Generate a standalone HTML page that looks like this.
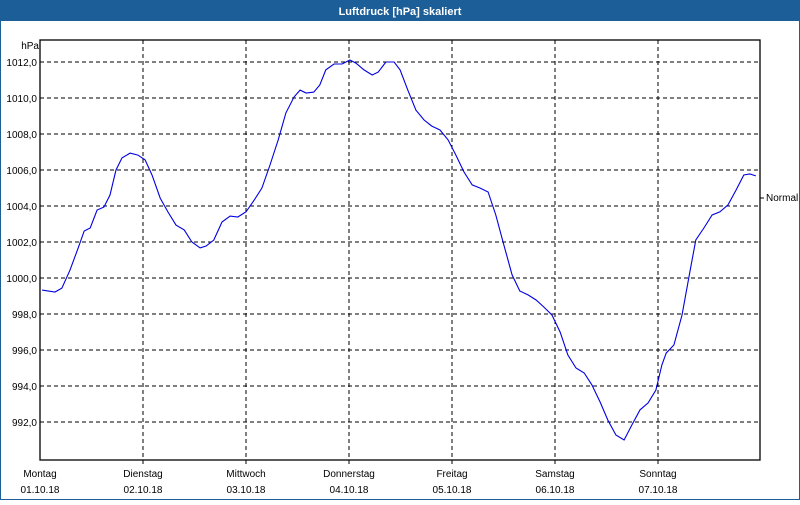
<!DOCTYPE html>
<html><head><meta charset="utf-8"><style>
body{margin:0;width:800px;height:500px;overflow:hidden;font-family:"Liberation Sans",sans-serif;}
</style></head><body>
<svg width="800" height="500" viewBox="0 0 800 500" xmlns="http://www.w3.org/2000/svg">
<rect x="0" y="0" width="800" height="500" fill="#1c5e98"/>
<rect x="1" y="21" width="798" height="478" fill="#ffffff"/>
<text x="400" y="15" text-anchor="middle" font-size="11" font-weight="bold" fill="#fff">Luftdruck [hPa] skaliert</text>
<g id="grid"></g>
<rect x="40" y="40" width="720" height="420" fill="none" stroke="#000" stroke-width="1.3"/>
<text x="39" y="49" text-anchor="end" font-size="10" fill="#000">hPa</text>
<g id="ylabels"></g><g id="xlabels"></g>
<polyline id="series" fill="none" stroke="#0000e0" stroke-width="1.1"/>
<line x1="760" y1="198" x2="764" y2="198" stroke="#000"/>
<text x="766" y="201" font-size="10" fill="#000">Normal</text>
</svg>
<script>
const hours=[0.5,3.5,5.1,7.0,8.9,10.3,11.7,13.3,14.9,16.3,17.7,19.1,21.0,22.8,24.5,26.1,28.0,29.8,31.7,33.6,35.4,37.3,38.7,40.5,42.4,44.3,46.1,48.0,49.9,51.7,53.6,55.5,57.3,59.2,60.6,62.0,63.8,65.2,66.6,68.5,70.4,72.2,73.6,75.5,77.4,78.8,80.6,82.5,83.9,85.7,87.6,89.5,91.3,93.2,95.1,96.9,98.8,100.7,102.5,104.4,106.2,108.1,110.0,111.8,113.7,115.6,117.4,119.3,121.2,123.0,124.9,126.8,128.6,130.5,132.3,134.2,136.1,137.9,139.8,141.7,143.5,144.9,145.9,147.7,149.6,151.5,152.8,154.7,156.6,158.4,160.3,162.2,164.0,165.4,166.8];
const pressure=[999.33,999.22,999.44,1000.44,1001.67,1002.61,1002.78,1003.78,1003.94,1004.61,1006.0,1006.67,1006.94,1006.83,1006.56,1005.72,1004.44,1003.67,1002.94,1002.67,1002.0,1001.67,1001.78,1002.11,1003.11,1003.44,1003.39,1003.67,1004.33,1005.0,1006.28,1007.67,1009.17,1010.06,1010.44,1010.28,1010.33,1010.72,1011.56,1011.89,1011.89,1012.11,1011.94,1011.56,1011.28,1011.44,1012.0,1012.0,1011.56,1010.44,1009.33,1008.78,1008.44,1008.22,1007.67,1006.83,1005.89,1005.17,1005.0,1004.78,1003.5,1001.83,1000.17,999.28,999.06,998.78,998.39,997.94,997.0,995.72,995.0,994.72,994.06,993.11,992.11,991.28,991.0,991.83,992.67,993.06,993.78,995.17,995.83,996.28,997.94,1000.44,1002.11,1002.78,1003.5,1003.67,1004.06,1004.89,1005.72,1005.78,1005.67];
const yTicks=[992,994,996,998,1000,1002,1004,1006,1008,1010,1012];
const dayNames=["Montag","Dienstag","Mittwoch","Donnerstag","Freitag","Samstag","Sonntag"];
const dayDates=["01.10.18","02.10.18","03.10.18","04.10.18","05.10.18","06.10.18","07.10.18"];
const NS="http://www.w3.org/2000/svg";
const xs=h=>40+h/24*103;
const ys=p=>62+(1012-p)*18;
const grid=document.getElementById('grid'),yl=document.getElementById('ylabels'),xl=document.getElementById('xlabels');
yTicks.forEach(v=>{
  const l=document.createElementNS(NS,'line');
  l.setAttribute('x1',40);l.setAttribute('x2',760);l.setAttribute('y1',ys(v));l.setAttribute('y2',ys(v));
  l.setAttribute('stroke','#000');l.setAttribute('stroke-dasharray','4,3');
  
  
  grid.appendChild(l);
  const t=document.createElementNS(NS,'text');
  t.setAttribute('x',37);t.setAttribute('y',ys(v)+4);t.setAttribute('text-anchor','end');t.setAttribute('font-size','10');
  t.textContent=v.toFixed(1).replace('.',',');
  
  
  yl.appendChild(t);
});
dayNames.forEach((d,i)=>{
  const x=xs(i*24);
  if(i>0){
    const l=document.createElementNS(NS,'line');
    l.setAttribute('x1',x);l.setAttribute('x2',x);l.setAttribute('y1',40);l.setAttribute('y2',464);
    l.setAttribute('stroke','#000');l.setAttribute('stroke-dasharray','4,3');
    
    
    grid.appendChild(l);
  }
  const t=document.createElementNS(NS,'text');
  t.setAttribute('x',x);t.setAttribute('y',477);t.setAttribute('text-anchor','middle');t.setAttribute('font-size','10');
  t.textContent=d;
  
  
  xl.appendChild(t);
  const t2=document.createElementNS(NS,'text');
  t2.setAttribute('x',x);t2.setAttribute('y',493);t2.setAttribute('text-anchor','middle');t2.setAttribute('font-size','10');
  t2.textContent=dayDates[i];
  
  
  xl.appendChild(t2);
});
document.getElementById('series').setAttribute('points',hours.map((h,i)=>xs(h).toFixed(1)+','+ys(pressure[i]).toFixed(1)).join(' '));
</script>
</body></html>
